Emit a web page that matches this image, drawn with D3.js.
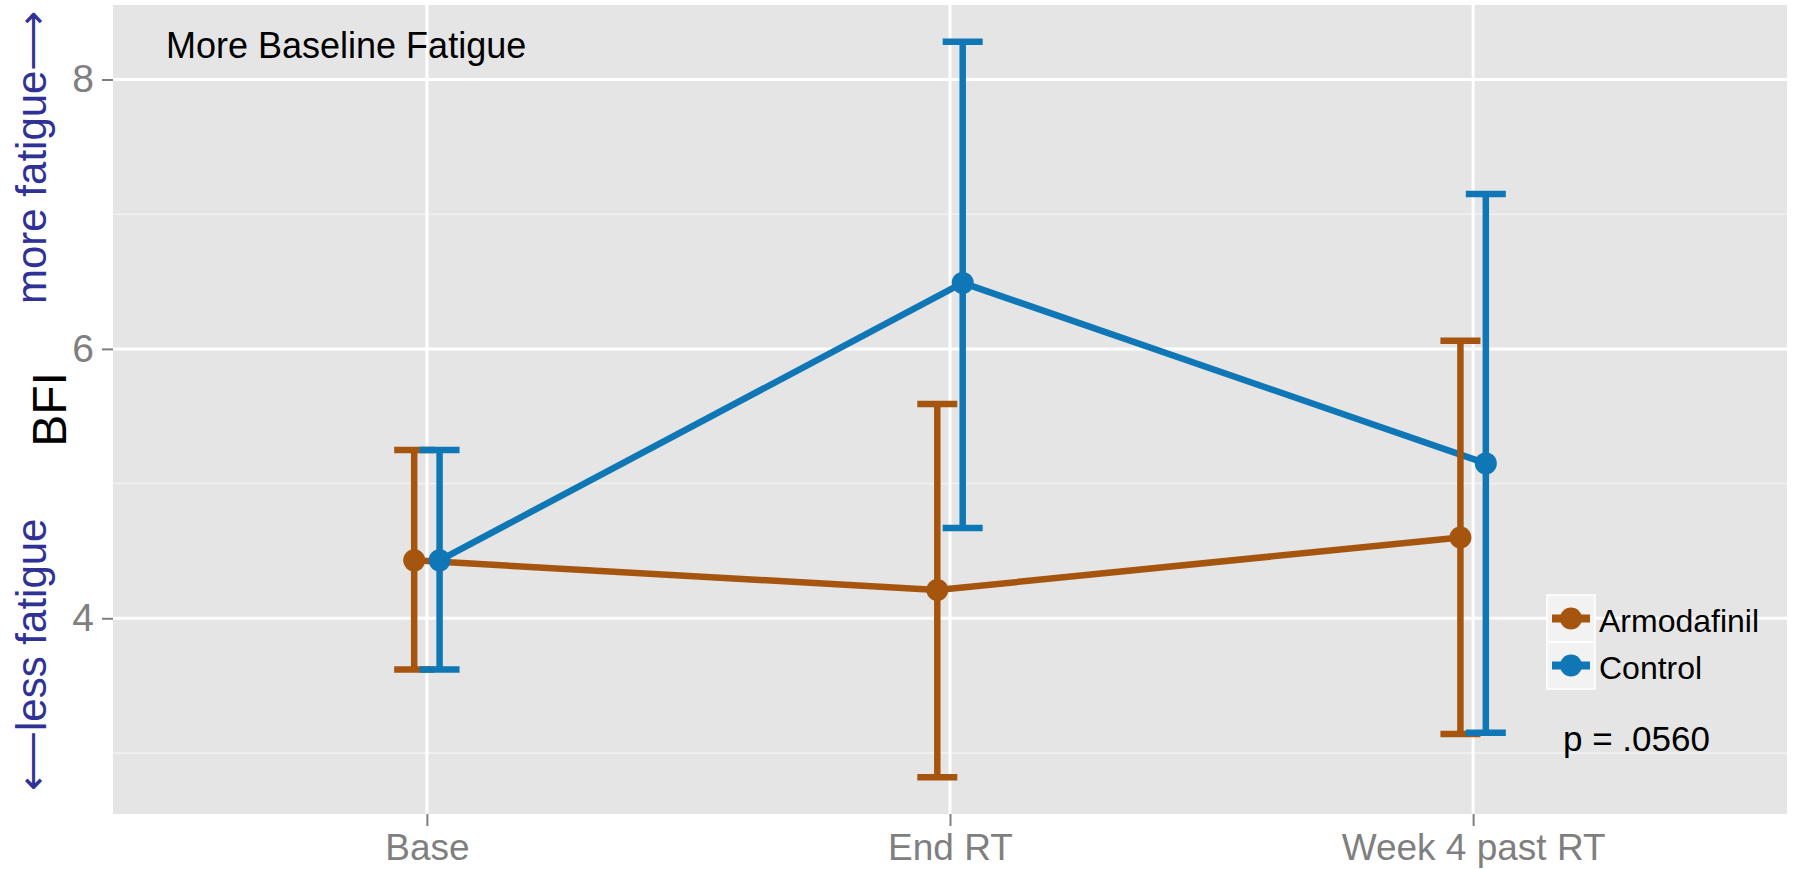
<!DOCTYPE html>
<html>
<head>
<meta charset="utf-8">
<script src="https://cdn.jsdelivr.net/npm/d3@7/dist/d3.min.js"></script>
<style>
  html, body { margin: 0; padding: 0; background: #ffffff; }
  svg { display: block; }
  text { font-family: "Liberation Sans", Arial, Helvetica, sans-serif; }
</style>
</head>
<body>
<svg id="chart" width="1794" height="869"></svg>
<script>
// ---------------- data ----------------
const categories = ["Base", "End RT", "Week 4 past RT"];
const seriesNames = ["Armodafinil", "Control"];
const armMean = [4.43, 4.21, 4.60];
const armLow  = [3.62, 2.82, 3.14];
const armHigh = [5.25, 5.59, 6.06];
const ctlMean = [4.43, 6.49, 5.15];
const ctlLow  = [3.62, 4.67, 3.15];
const ctlHigh = [5.25, 8.28, 7.15];
const yMajorTicks = [4, 6, 8];
const yMinorTicks = [3, 5, 7];
const panelTitle = "More Baseline Fatigue";
const pLabel = "p = .0560";
const yTitle = "BFI";
const upLabel = "more fatigue\u27F6";
const downLabel = "\u27F5less fatigue";

// ---------------- layout / style ----------------
const W = 1794, H = 869;
const panel = { left: 113, right: 1787, top: 5, bottom: 814 };
const colors = { "Armodafinil": "#A6550E", "Control": "#1077B6" };
const dodge = 12.7;
const capHalf = 20;

const series = [
  { name: seriesNames[0], mean: armMean, low: armLow, high: armHigh, off: -dodge },
  { name: seriesNames[1], mean: ctlMean, low: ctlLow, high: ctlHigh, off: dodge }
];

const allVals = [].concat(armLow, armHigh, ctlLow, ctlHigh);
const vmin = d3.min(allVals), vmax = d3.max(allVals);
const ex = (vmax - vmin) * 0.05;

const x = d3.scalePoint().domain(categories).range([panel.left, panel.right]).padding(0.6);
const y = d3.scaleLinear().domain([vmin - ex, vmax + ex]).range([panel.bottom, panel.top]);

const svg = d3.select("#chart");
svg.append("rect").attr("width", W).attr("height", H).attr("fill", "#ffffff");

// panel background
svg.append("rect")
  .attr("x", panel.left).attr("y", panel.top)
  .attr("width", panel.right - panel.left).attr("height", panel.bottom - panel.top)
  .attr("fill", "#E5E5E5");

// minor grid
svg.append("g").selectAll("line").data(yMinorTicks).join("line")
  .attr("x1", panel.left).attr("x2", panel.right)
  .attr("y1", d => y(d)).attr("y2", d => y(d))
  .attr("stroke", "#F2F2F2").attr("stroke-width", 1.5);

// major grid
svg.append("g").selectAll("line").data(yMajorTicks).join("line")
  .attr("x1", panel.left).attr("x2", panel.right)
  .attr("y1", d => y(d)).attr("y2", d => y(d))
  .attr("stroke", "#ffffff").attr("stroke-width", 3);
svg.append("g").selectAll("line").data(categories).join("line")
  .attr("x1", d => x(d)).attr("x2", d => x(d))
  .attr("y1", panel.top).attr("y2", panel.bottom)
  .attr("stroke", "#ffffff").attr("stroke-width", 3);

// axes
const yAxis = d3.axisLeft(y).tickValues(yMajorTicks).tickSize(11).tickPadding(8).tickFormat(d3.format("d"));
const gy = svg.append("g").attr("transform", `translate(${panel.left},0)`).call(yAxis);
gy.select(".domain").remove();
gy.selectAll(".tick line").attr("stroke", "#7F7F7F").attr("stroke-width", 2);
gy.selectAll(".tick text").attr("fill", "#7F7F7F").attr("font-size", 39)
  .attr("font-family", "'Liberation Sans', Arial, sans-serif");

const xAxis = d3.axisBottom(x).tickSize(12).tickPadding(8);
const gx = svg.append("g").attr("transform", `translate(0,${panel.bottom})`).call(xAxis);
gx.select(".domain").remove();
gx.selectAll(".tick line").attr("stroke", "#7F7F7F").attr("stroke-width", 2);
gx.selectAll(".tick text").attr("fill", "#7F7F7F").attr("font-size", 37)
  .attr("font-family", "'Liberation Sans', Arial, sans-serif");

// lines
const lineGen = d3.line().x(d => d.x).y(d => d.y);
series.forEach(s => {
  const pts = categories.map((c, i) => ({ x: x(c) + s.off, y: y(s.mean[i]) }));
  svg.append("path").attr("d", lineGen(pts))
    .attr("fill", "none").attr("stroke", colors[s.name])
    .attr("stroke-width", 6.5).attr("stroke-linejoin", "round");
});

// error bars
series.forEach(s => {
  const g = svg.append("g").attr("stroke", colors[s.name]).attr("stroke-width", 6.5);
  categories.forEach((c, i) => {
    const cx = x(c) + s.off;
    g.append("line").attr("x1", cx).attr("x2", cx).attr("y1", y(s.low[i])).attr("y2", y(s.high[i]));
    g.append("line").attr("x1", cx - capHalf).attr("x2", cx + capHalf).attr("y1", y(s.low[i])).attr("y2", y(s.low[i]));
    g.append("line").attr("x1", cx - capHalf).attr("x2", cx + capHalf).attr("y1", y(s.high[i])).attr("y2", y(s.high[i]));
  });
});

// points
series.forEach(s => {
  svg.append("g").selectAll("circle").data(categories).join("circle")
    .attr("cx", (c) => x(c) + s.off)
    .attr("cy", (c, i) => y(s.mean[i]))
    .attr("r", 11)
    .attr("fill", colors[s.name]);
});

// panel title
svg.append("text").attr("x", 166).attr("y", 58)
  .attr("font-size", 36).attr("fill", "#000").text(panelTitle);

// p label
svg.append("text").attr("x", 1563).attr("y", 751)
  .attr("font-size", 35).attr("fill", "#000").text(pLabel);

// legend
const leg = svg.append("g");
seriesNames.forEach((n, i) => {
  const ky = 595 + i * 47;
  leg.append("rect").attr("x", 1547).attr("y", ky).attr("width", 48).attr("height", 47)
    .attr("fill", "#F2F2F2").attr("stroke", "#ffffff").attr("stroke-width", 1.5);
  leg.append("line").attr("x1", 1552).attr("x2", 1590).attr("y1", ky + 23.5).attr("y2", ky + 23.5)
    .attr("stroke", colors[n]).attr("stroke-width", 8);
  leg.append("circle").attr("cx", 1571).attr("cy", ky + 23.5).attr("r", 11).attr("fill", colors[n]);
  leg.append("text").attr("x", 1599).attr("y", ky + 36.5)
    .attr("font-size", 32).attr("fill", "#000").text(n);
});

// y title
svg.append("text").attr("transform", `translate(66,${(panel.top + panel.bottom) / 2}) rotate(-90)`)
  .attr("text-anchor", "middle").attr("font-size", 48).attr("fill", "#000").text(yTitle);

// side labels
svg.append("text").attr("transform", `translate(46,304) rotate(-90)`)
  .attr("text-anchor", "start").attr("font-size", 42).attr("fill", "#2F3195").text(upLabel);
svg.append("text").attr("transform", `translate(46,791) rotate(-90)`)
  .attr("text-anchor", "start").attr("font-size", 42).attr("fill", "#2F3195").text(downLabel);
</script>
</body>
</html>
